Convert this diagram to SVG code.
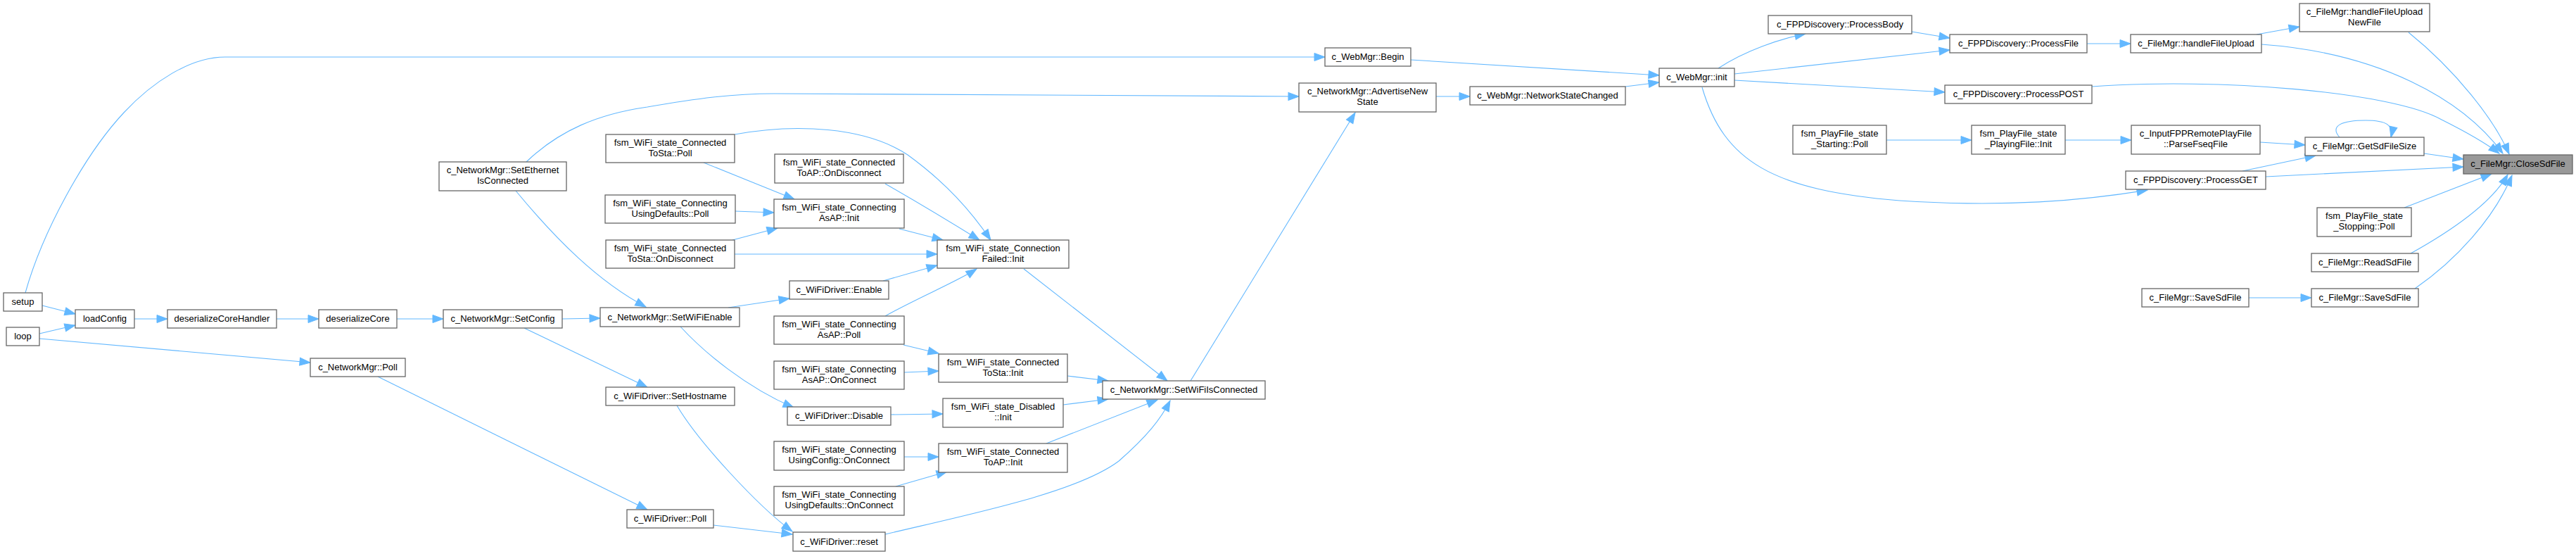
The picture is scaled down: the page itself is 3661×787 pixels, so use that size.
<svg xmlns="http://www.w3.org/2000/svg" width="3661" height="787" viewBox="0 0 3661 787">
<defs>
<style>
.n rect{fill:#ffffff;stroke:#666666;stroke-width:1.3}
.r rect{fill:#999999;stroke:#666666;stroke-width:1.3}
text{font-family:"Liberation Sans",Arial,Helvetica,sans-serif;font-size:13px;fill:#000000;text-anchor:middle}
#edges path{fill:none;stroke:#63b8ff;stroke-width:1.1;marker-end:url(#arr)}
</style>
<marker id="arr" markerUnits="userSpaceOnUse" markerWidth="18" markerHeight="14" refX="16" refY="7" orient="auto">
<path d="M1,1.5 L16,7 L1,12.5 Z" fill="#63b8ff" stroke="#63b8ff" stroke-width="1"/>
</marker>
</defs>
<rect width="3661" height="787" fill="#ffffff"/>
<g id="edges">
<path d="M3423,46 C3490,100 3545,170 3566,219"/>
<path d="M3214,63 C3380,75 3500,140 3557,218"/>
<path d="M2973,123 C3150,110 3400,130 3470,170 C3510,190 3535,205 3552,218"/>
<path d="M3445,218 L3501,226"/>
<path d="M3325,195 C3310,178 3330,171 3362,171 C3392,171 3402,178 3398,195"/>
<path d="M3187,243 L3291,221"/>
<path d="M3220,251 L3501,237"/>
<path d="M3417,295 L3541,247"/>
<path d="M3426,360 C3480,330 3540,290 3564,248"/>
<path d="M3432,410 C3490,370 3545,310 3570,249"/>
<path d="M3196,423 L3285,423"/>
<path d="M2966,62 L3028,62"/>
<path d="M3207,49 L3268,38"/>
<path d="M2717,45 L2771,54"/>
<path d="M2442,97 C2480,72 2530,55 2566,48"/>
<path d="M2465,105 L2771,71"/>
<path d="M2465,114 L2764,131"/>
<path d="M2419,124 C2450,230 2520,270 2700,285 C2850,295 2960,285 3052,270"/>
<path d="M2681,199 L2802,199"/>
<path d="M2935,199 L3029,199"/>
<path d="M3212,202 L3276,206"/>
<path d="M2005,85 L2358,107"/>
<path d="M2041,137 L2089,137"/>
<path d="M2310,123 L2358,117"/>
<path d="M36,416 C60,330 120,220 176,160 C216,117 270,81 320,81 L1883,81"/>
<path d="M748,230 C795,185 850,162 920,152 C990,140 1040,133 1100,133 L1846,137"/>
<path d="M733,271 C790,340 850,400 918,436"/>
<path d="M799,453 L853,452"/>
<path d="M745,466 L920,550"/>
<path d="M537,535 L920,724"/>
<path d="M60,434 L107,446"/>
<path d="M56,474 L107,462"/>
<path d="M56,481 L441,515"/>
<path d="M191,453 L238,453"/>
<path d="M393,453 L453,453"/>
<path d="M564,453 L630,453"/>
<path d="M1000,231 L1129,283"/>
<path d="M1044,191 C1130,175 1230,180 1290,220 C1345,260 1380,300 1408,341"/>
<path d="M1258,261 C1300,285 1350,315 1392,341"/>
<path d="M1045,300 L1100,302"/>
<path d="M1041,341 L1105,324"/>
<path d="M1278,325 L1340,341"/>
<path d="M1044,361 L1332,361"/>
<path d="M1035,437 L1122,424"/>
<path d="M1255,399 L1332,377"/>
<path d="M1258,449 C1300,425 1360,400 1388,382"/>
<path d="M1455,382 L1659,541"/>
<path d="M1692,541 L1926,160"/>
<path d="M1284,490 L1334,502"/>
<path d="M1285,529 L1334,527"/>
<path d="M1517,534 L1575,541"/>
<path d="M967,464 C1000,500 1060,550 1128,579"/>
<path d="M1266,589 L1340,588"/>
<path d="M1511,575 L1575,567"/>
<path d="M1487,630 L1645,568"/>
<path d="M1285,649 L1334,649"/>
<path d="M1273,691 L1346,670"/>
<path d="M962,576 C992,627 1076,718 1126,755"/>
<path d="M1014,746 L1126,759"/>
<path d="M1258,759 C1380,730 1530,700 1590,655 C1630,620 1650,595 1663,569"/>
</g>
<g id="CloseSdFile" class="r"><rect x="3501" y="220" width="155" height="27"/><text x="3578.5" y="237">c_FileMgr::CloseSdFile</text></g>
<g id="handleFileUploadNewFile" class="n"><rect x="3268" y="5" width="185" height="40"/><text x="3360.5" y="21">c_FileMgr::handleFileUpload</text><text x="3360.5" y="36">NewFile</text></g>
<g id="handleFileUpload" class="n"><rect x="3028" y="49" width="186" height="26"/><text x="3121" y="66">c_FileMgr::handleFileUpload</text></g>
<g id="ProcessFile" class="n"><rect x="2771" y="49" width="195" height="26"/><text x="2868.5" y="66">c_FPPDiscovery::ProcessFile</text></g>
<g id="ProcessBody" class="n"><rect x="2513" y="22" width="204" height="26"/><text x="2615" y="39">c_FPPDiscovery::ProcessBody</text></g>
<g id="WebMgrInit" class="n"><rect x="2358" y="97" width="107" height="26"/><text x="2411.5" y="114">c_WebMgr::init</text></g>
<g id="WebMgrBegin" class="n"><rect x="1883" y="68" width="122" height="26"/><text x="1944" y="85">c_WebMgr::Begin</text></g>
<g id="NetworkStateChanged" class="n"><rect x="2089" y="123" width="221" height="26"/><text x="2199.5" y="140">c_WebMgr::NetworkStateChanged</text></g>
<g id="AdvertiseNewState" class="n"><rect x="1846" y="118" width="195" height="41"/><text x="1943.5" y="134">c_NetworkMgr::AdvertiseNew</text><text x="1943.5" y="149">State</text></g>
<g id="ProcessPOST" class="n"><rect x="2764" y="121" width="209" height="26"/><text x="2868.5" y="138">c_FPPDiscovery::ProcessPOST</text></g>
<g id="StartingPoll" class="n"><rect x="2548" y="178" width="133" height="41"/><text x="2614.5" y="194">fsm_PlayFile_state</text><text x="2614.5" y="209">_Starting::Poll</text></g>
<g id="PlayingFileInit" class="n"><rect x="2802" y="178" width="133" height="41"/><text x="2868.5" y="194">fsm_PlayFile_state</text><text x="2868.5" y="209">_PlayingFile::Init</text></g>
<g id="ParseFseqFile" class="n"><rect x="3029" y="178" width="183" height="41"/><text x="3120.5" y="194">c_InputFPPRemotePlayFile</text><text x="3120.5" y="209">::ParseFseqFile</text></g>
<g id="GetSdFileSize" class="n"><rect x="3276" y="195" width="169" height="26"/><text x="3360.5" y="212">c_FileMgr::GetSdFileSize</text></g>
<g id="ProcessGET" class="n"><rect x="3021" y="243" width="199" height="26"/><text x="3120.5" y="260">c_FPPDiscovery::ProcessGET</text></g>
<g id="StoppingPoll" class="n"><rect x="3293" y="295" width="134" height="41"/><text x="3360" y="311">fsm_PlayFile_state</text><text x="3360" y="326">_Stopping::Poll</text></g>
<g id="ReadSdFile" class="n"><rect x="3285" y="360" width="152" height="26"/><text x="3361" y="377">c_FileMgr::ReadSdFile</text></g>
<g id="SaveSdFileA" class="n"><rect x="3044" y="410" width="152" height="26"/><text x="3120" y="427">c_FileMgr::SaveSdFile</text></g>
<g id="SaveSdFileB" class="n"><rect x="3285" y="410" width="152" height="26"/><text x="3361" y="427">c_FileMgr::SaveSdFile</text></g>
<g id="setup" class="n"><rect x="5" y="416" width="55" height="26"/><text x="32.5" y="433">setup</text></g>
<g id="loop" class="n"><rect x="9" y="465" width="47" height="26"/><text x="32.5" y="482">loop</text></g>
<g id="loadConfig" class="n"><rect x="107" y="440" width="84" height="26"/><text x="149" y="457">loadConfig</text></g>
<g id="deserializeCoreHandler" class="n"><rect x="238" y="440" width="155" height="26"/><text x="315.5" y="457">deserializeCoreHandler</text></g>
<g id="deserializeCore" class="n"><rect x="453" y="440" width="111" height="26"/><text x="508.5" y="457">deserializeCore</text></g>
<g id="SetConfig" class="n"><rect x="630" y="440" width="169" height="26"/><text x="714.5" y="457">c_NetworkMgr::SetConfig</text></g>
<g id="NetworkMgrPoll" class="n"><rect x="441" y="509" width="135" height="26"/><text x="508.5" y="526">c_NetworkMgr::Poll</text></g>
<g id="SetEthernetIsConnected" class="n"><rect x="624" y="230" width="181" height="41"/><text x="714.5" y="246">c_NetworkMgr::SetEthernet</text><text x="714.5" y="261">IsConnected</text></g>
<g id="SetWiFiEnable" class="n"><rect x="853" y="437" width="198" height="27"/><text x="952" y="454.5">c_NetworkMgr::SetWiFiEnable</text></g>
<g id="SetHostname" class="n"><rect x="861" y="550" width="183" height="26"/><text x="952.5" y="567">c_WiFiDriver::SetHostname</text></g>
<g id="WiFiDriverPoll" class="n"><rect x="891" y="724" width="123" height="26"/><text x="952.5" y="741">c_WiFiDriver::Poll</text></g>
<g id="ConnectedToStaPoll" class="n"><rect x="861" y="191" width="183" height="40"/><text x="952.5" y="207">fsm_WiFi_state_Connected</text><text x="952.5" y="222">ToSta::Poll</text></g>
<g id="ConnectingUsingDefaultsPoll" class="n"><rect x="860" y="277" width="185" height="40"/><text x="952.5" y="293">fsm_WiFi_state_Connecting</text><text x="952.5" y="308">UsingDefaults::Poll</text></g>
<g id="ConnectedToStaOnDisconnect" class="n"><rect x="861" y="341" width="183" height="40"/><text x="952.5" y="357">fsm_WiFi_state_Connected</text><text x="952.5" y="372">ToSta::OnDisconnect</text></g>
<g id="ConnectedToAPOnDisconnect" class="n"><rect x="1101" y="219" width="183" height="41"/><text x="1192.5" y="235">fsm_WiFi_state_Connected</text><text x="1192.5" y="250">ToAP::OnDisconnect</text></g>
<g id="ConnectingAsAPInit" class="n"><rect x="1100" y="283" width="185" height="41"/><text x="1192.5" y="299">fsm_WiFi_state_Connecting</text><text x="1192.5" y="314">AsAP::Init</text></g>
<g id="ConnectionFailedInit" class="n"><rect x="1332" y="341" width="187" height="40"/><text x="1425.5" y="357">fsm_WiFi_state_Connection</text><text x="1425.5" y="372">Failed::Init</text></g>
<g id="WiFiDriverEnable" class="n"><rect x="1122" y="399" width="141" height="26"/><text x="1192.5" y="416">c_WiFiDriver::Enable</text></g>
<g id="ConnectingAsAPPoll" class="n"><rect x="1100" y="449" width="185" height="40"/><text x="1192.5" y="465">fsm_WiFi_state_Connecting</text><text x="1192.5" y="480">AsAP::Poll</text></g>
<g id="ConnectingAsAPOnConnect" class="n"><rect x="1100" y="513" width="185" height="40"/><text x="1192.5" y="529">fsm_WiFi_state_Connecting</text><text x="1192.5" y="544">AsAP::OnConnect</text></g>
<g id="ConnectedToStaInit" class="n"><rect x="1334" y="503" width="183" height="40"/><text x="1425.5" y="519">fsm_WiFi_state_Connected</text><text x="1425.5" y="534">ToSta::Init</text></g>
<g id="WiFiDriverDisable" class="n"><rect x="1119" y="578" width="147" height="26"/><text x="1192.5" y="595">c_WiFiDriver::Disable</text></g>
<g id="DisabledInit" class="n"><rect x="1340" y="566" width="171" height="41"/><text x="1425.5" y="582">fsm_WiFi_state_Disabled</text><text x="1425.5" y="597">::Init</text></g>
<g id="SetWiFiIsConnected" class="n"><rect x="1567" y="541" width="231" height="26"/><text x="1682.5" y="558">c_NetworkMgr::SetWiFiIsConnected</text></g>
<g id="ConnectingUsingConfigOnConnect" class="n"><rect x="1100" y="627" width="185" height="41"/><text x="1192.5" y="643">fsm_WiFi_state_Connecting</text><text x="1192.5" y="658">UsingConfig::OnConnect</text></g>
<g id="ConnectedToAPInit" class="n"><rect x="1334" y="630" width="183" height="41"/><text x="1425.5" y="646">fsm_WiFi_state_Connected</text><text x="1425.5" y="661">ToAP::Init</text></g>
<g id="ConnectingUsingDefaultsOnConnect" class="n"><rect x="1100" y="691" width="185" height="41"/><text x="1192.5" y="707">fsm_WiFi_state_Connecting</text><text x="1192.5" y="722">UsingDefaults::OnConnect</text></g>
<g id="WiFiDriverReset" class="n"><rect x="1127" y="756" width="131" height="27"/><text x="1192.5" y="773.5">c_WiFiDriver::reset</text></g>
</svg>
